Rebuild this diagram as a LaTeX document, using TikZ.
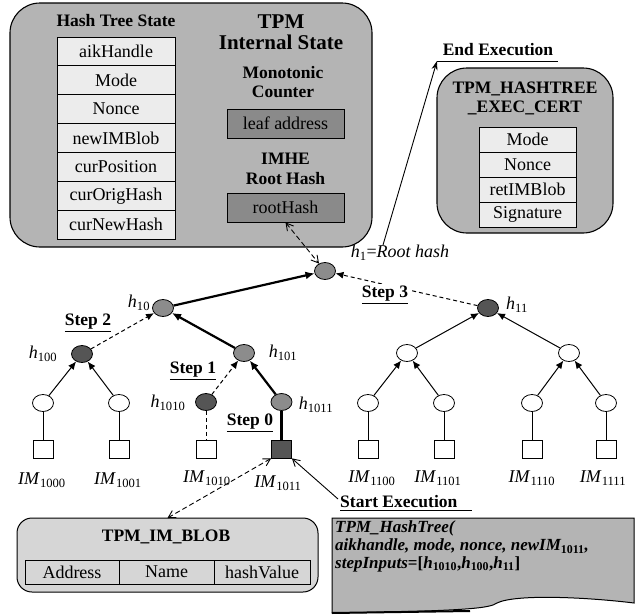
\documentclass[tikz,border=0pt]{standalone}
\usepackage{fontspec}
\setmainfont{Liberation Serif}
\usetikzlibrary{arrows.meta,shapes.geometric}
\definecolor{boxgray}{RGB}{180,180,180}
\definecolor{cellgray}{RGB}{236,236,236}
\definecolor{midgray}{RGB}{140,140,140}
\definecolor{darknode}{RGB}{85,85,85}
\definecolor{blobgray}{RGB}{214,214,214}
\definecolor{keybox}{RGB}{138,138,138}
\newcommand\myfs[1]{\fontsize{#1}{#1}\selectfont}
\newcommand\hh[1]{\textit{h}\textsubscript{\upshape #1}}
\newcommand\imm[1]{\textit{IM}\textsubscript{\upshape #1}}
\begin{document}
\begin{tikzpicture}[x=1pt,y=-1pt,font=\myfs{18},
  bigbox/.style={draw,line width=1.1pt,fill=boxgray,rounded corners=30pt},
  cellA/.style={draw,line width=0.8pt,fill=cellgray,minimum width=118pt,minimum height=28.9pt,inner sep=0pt},
  cellB/.style={draw,line width=0.8pt,fill=cellgray,minimum width=97pt,minimum height=25pt,inner sep=0pt},
  cellC/.style={draw,line width=0.8pt,fill=blobgray,minimum height=24pt,inner sep=0pt},
  keyb/.style={draw,line width=0.8pt,fill=keybox,minimum width=117pt,minimum height=29pt,inner sep=0pt},
  ttl/.style={font=\myfs{17.5}\bfseries,inner sep=0pt},
  tn/.style={ellipse,draw,line width=0.8pt,minimum width=21pt,minimum height=17pt,inner sep=0pt},
  gn/.style={tn,fill=midgray},
  dn/.style={tn,fill=darknode},
  wn/.style={tn,fill=white},
  leaf/.style={draw,line width=0.8pt,fill=white,minimum width=20pt,minimum height=18pt,inner sep=0pt},
  thickarr/.style={line width=2.2pt,-{Latex[length=9pt,width=8pt]}},
  thinarr/.style={line width=1pt,-{Latex[length=8pt,width=7pt]}},
  dasharr/.style={line width=1pt,dash pattern=on 4pt off 3pt,-{Latex[length=8pt,width=7pt]}},
  dline/.style={line width=1pt,dash pattern=on 4pt off 3pt},
  dbl/.style={line width=0.9pt,dash pattern=on 5pt off 3pt,{Straight Barb[length=7pt,width=8pt]}-{Straight Barb[length=7pt,width=8pt]}},
  lab/.style={inner sep=1pt},
  stp/.style={font=\myfs{17.5}\bfseries,inner sep=2pt,fill=white}]
\useasboundingbox (0,0) rectangle (635,616);

% ---- TPM internal state box
\draw[bigbox] (10,3) rectangle (372,247);
\node[ttl] (hts) at (116,21) {Hash Tree State};
\node[cellA] (c1) at (116,51.4) {aikHandle};
\node[cellA] (c2) at (116,80.3) {Mode};
\node[cellA] (c3) at (116,109.1) {Nonce};
\node[cellA] (c4) at (116,138) {newIMBlob};
\node[cellA] (c5) at (116,166.9) {curPosition};
\node[cellA] (c6) at (116,195.7) {curOrigHash};
\node[cellA] (c7) at (116,224.6) {curNewHash};
\node[font=\myfs{21}\bfseries,inner sep=0pt] (tpm1) at (281,22) {TPM};
\node[font=\myfs{21}\bfseries,inner sep=0pt] (tpm2) at (281,42) {Internal State};
\node[ttl] (mc1) at (283,73) {Monotonic};
\node[ttl] (mc2) at (283,92) {Counter};
\node[keyb] (la) at (285.5,123.5) {leaf address};
\node[ttl] (im1) at (285.5,159) {IMHE};
\node[ttl] (im2) at (285.5,179) {Root Hash};
\node[keyb] (rh) at (285.5,207.5) {rootHash};

% ---- cert box
\draw[bigbox] (437,68) rectangle (613,233);
\node[ttl] (ct1) at (525,89) {TPM\_HASHTREE};
\node[ttl] (ct2) at (525,108) {\_EXEC\_CERT};
\node[cellB] (d1) at (527.5,139.5) {Mode};
\node[cellB] (d2) at (527.5,164.5) {Nonce};
\node[cellB] (d3) at (527.5,189.5) {retIMBlob};
\node[cellB] (d4) at (527.5,214.5) {Signature};

% ---- end execution
\node[ttl] (ee) at (498,50) {End Execution};
\draw[line width=0.8pt] (437,61) -- (558,61);
\coordinate (eeu) at (437,61);
\node[lab] (rootlab) at (400,253) {\hh{1}=\textit{Root hash}};
\coordinate (ees) at (383,245);
\draw[line width=0.9pt,-{Stealth[length=9pt,width=6pt]}] (ees) -- (eeu);

% ---- tree nodes
\node[gn] (r) at (325,271) {};
\node[gn] (h10) at (163,308) {};
\node[dn] (h11) at (488,308) {};
\node[dn] (h100) at (82,354) {};
\node[gn] (h101) at (244,353) {};
\node[dn] (h1010) at (206,402) {};
\node[gn] (h1011) at (281.5,402) {};
\node[wn] (h1000) at (43,403) {};
\node[wn] (h1001) at (119,403) {};
\node[wn] (h110) at (407,353) {};
\node[wn] (h111) at (569,353) {};
\node[wn] (h1100) at (368,403) {};
\node[wn] (h1101) at (444,403) {};
\node[wn] (h1110) at (532,403) {};
\node[wn] (h1111) at (606,403) {};

\node[leaf] (l1000) at (43,449) {};
\node[leaf] (l1001) at (119,449) {};
\node[leaf] (l1010) at (206,449) {};
\node[leaf,fill=darknode] (l1011) at (281.5,449) {};
\node[leaf] (l1100) at (368,449) {};
\node[leaf] (l1101) at (444,449) {};
\node[leaf] (l1110) at (532,449) {};
\node[leaf] (l1111) at (606,449) {};

% ---- tree edges
\draw[thickarr] (h10) -- (r);
\draw[dasharr] (h11) -- (r);
\draw[thickarr] (h101) -- (h10);
\draw[dasharr] (h100) -- (h10);
\draw[thickarr] (h1011) -- (h101);
\draw[dasharr] (h1010) -- (h101);
\draw[line width=2.2pt] (h1011) -- (l1011);
\draw[dline] (h1010) -- (l1010);
\foreach \a/\b in {h1000/h100,h1001/h100,h110/h11,h111/h11,h1100/h110,h1101/h110,h1110/h111,h1111/h111}
  \draw[thinarr] (\a) -- (\b);
\foreach \a/\b in {h1000/l1000,h1001/l1001,h1100/l1100,h1101/l1101,h1110/l1110,h1111/l1111}
  \draw[line width=1pt] (\a) -- (\b);
\draw[dbl] (rh.south) -- (r);

% ---- hash labels
\node[lab] (lh10) at (139,303) {\hh{10}};
\node[lab] (lh11) at (517,305) {\hh{11}};
\node[lab] (lh100) at (43,354) {\hh{100}};
\node[lab] (lh101) at (283,353) {\hh{101}};
\node[lab] (lh1010) at (168,403) {\hh{1010}};
\node[lab] (lh1011) at (316,405) {\hh{1011}};
\node[stp] (s3) at (385,295) {\underline{Step 3}};
\node[stp] (s2) at (88,323) {\underline{Step 2}};
\node[stp] (s1) at (193,371) {\underline{Step 1}};
\node[stp] (s0) at (250,423) {\underline{Step 0}};

% ---- leaf labels
\node[lab] (i1) at (42,480) {\imm{1000}};
\node[lab] (i2) at (118,480) {\imm{1001}};
\node[lab] (i3) at (207,478) {\imm{1010}};
\node[lab] (i4) at (278,483) {\imm{1011}};
\node[lab] (i5) at (372,478) {\imm{1100}};
\node[lab] (i6) at (438,478) {\imm{1101}};
\node[lab] (i7) at (532,478) {\imm{1110}};
\node[lab] (i8) at (603,478) {\imm{1111}};

% ---- start execution
\node[ttl,anchor=west] (se) at (340,502) {Start Execution};
\draw[line width=0.8pt] (340,510) -- (472,510);
\coordinate (ses) at (338,499);
\draw[line width=0.9pt,-{Straight Barb[length=7pt,width=8pt]}] (ses) -- (l1011.south east);

% ---- TPM_IM_BLOB
\draw[line width=1pt,fill=blobgray,rounded corners=15pt] (17,518) rectangle (318,592);
\coordinate (blobtop) at (167.5,518);
\node[ttl] (bt) at (166,537) {TPM\_IM\_BLOB};
\node[cellC,minimum width=94pt] (b1) at (72,572) {Address};
\node[cellC,minimum width=95pt] (b2) at (166.5,572) {Name};
\node[cellC,minimum width=96pt] (b3) at (262,572) {hashValue};
\draw[dbl] (l1011.south west) -- (blobtop);

% ---- call document shape
\draw[line width=1pt,fill=boxgray] (332,613) -- (332,518) -- (634,518) -- (634,603)
  .. controls (585,597) and (515,594) .. (497,603)
  .. controls (490,608) and (470,611) .. (332,613) -- cycle;
\draw[line width=2pt] (332,613) -- (470,611);
\node[anchor=west,inner sep=0pt,font=\myfs{17}\bfseries\itshape] (t1) at (335,528) {TPM\_HashTree(};
\node[anchor=west,inner sep=0pt,font=\myfs{17}\bfseries\itshape] (t2) at (335,546) {aikhandle, mode, nonce, newIM\textsubscript{\upshape 1011},};
\node[anchor=west,inner sep=0pt,font=\myfs{17}\bfseries\itshape] (t3) at (335,564) {stepInputs\textup{=[}h\textsubscript{\upshape 1010}\textup{,}h\textsubscript{\upshape 100}\textup{,}h\textsubscript{\upshape 11}\textup{]}};
\end{tikzpicture}
\end{document}
